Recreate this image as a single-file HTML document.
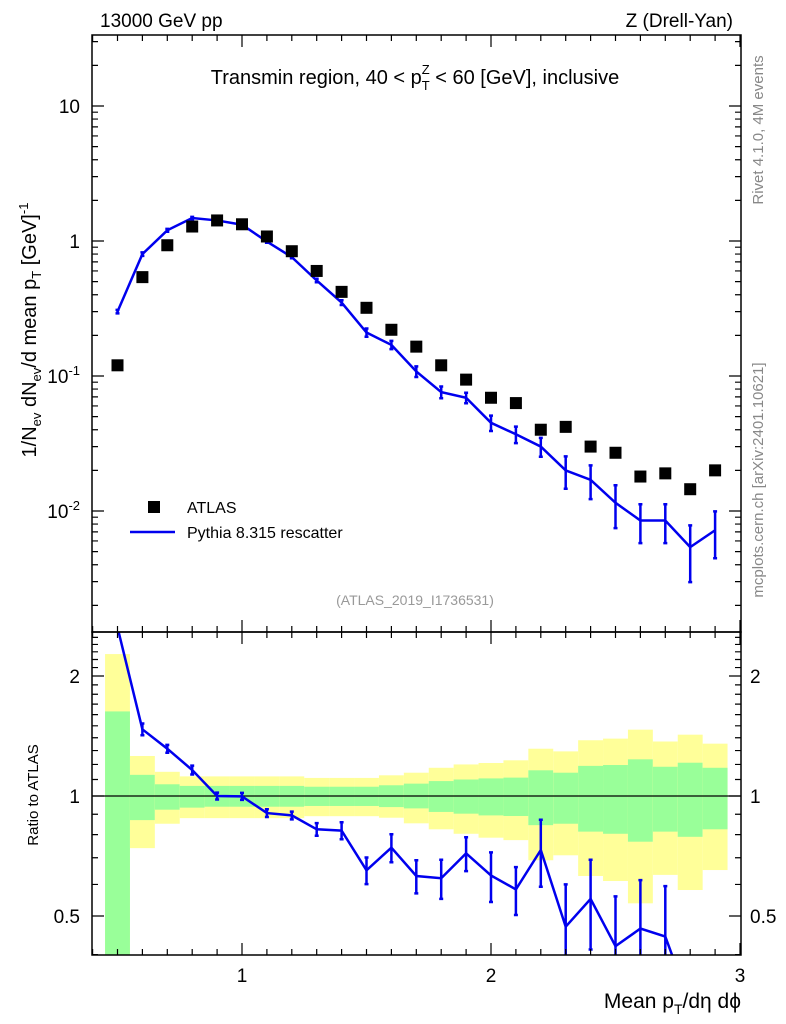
<!DOCTYPE html>
<html><head><meta charset="utf-8"><style>
html,body{margin:0;background:#fff;overflow:hidden;width:786px;height:1024px;}
svg{display:block;}
svg text{font-family:"Liberation Sans",sans-serif;}
</style></head><body>
<svg id="chart" width="786" height="1024" xmlns="http://www.w3.org/2000/svg">
<g id="bands"></g>
<g id="marks"></g>
<g id="axes"></g>
<text x="100" y="27" font-size="19">13000 GeV pp</text>
<text x="733" y="27" font-size="19" text-anchor="end">Z (Drell-Yan)</text>
<text x="415" y="84" font-size="20" text-anchor="middle">Transmin region, 40 &lt; p<tspan dy="6" font-size="13">T</tspan><tspan dx="-8" dy="-16" font-size="13">Z</tspan><tspan dy="10"> &lt; 60 [GeV], inclusive</tspan></text>
<text x="415" y="605" font-size="14" fill="#999" text-anchor="middle">(ATLAS_2019_I1736531)</text>
<text transform="translate(763,130) rotate(-90)" font-size="15" fill="#888" text-anchor="middle">Rivet 4.1.0,  4M events</text>
<text transform="translate(763,480) rotate(-90)" font-size="15" fill="#888" text-anchor="middle">mcplots.cern.ch [arXiv:2401.10621]</text>
<text transform="translate(36,330) rotate(-90)" font-size="20" text-anchor="middle">1/N<tspan dy="5" font-size="13">ev</tspan><tspan dy="-5"> dN</tspan><tspan dy="5" font-size="13">ev</tspan><tspan dy="-5">/d mean p</tspan><tspan dy="5" font-size="13">T</tspan><tspan dy="-5"> [GeV]</tspan><tspan dy="-8" font-size="13">-1</tspan></text>
<text transform="translate(38,795) rotate(-90)" font-size="15" text-anchor="middle">Ratio to ATLAS</text>
<text x="741" y="1008" font-size="21" text-anchor="end">Mean p<tspan dy="6" font-size="14">T</tspan><tspan dy="-6">/dη dϕ</tspan></text>
<g>
<rect x="148" y="501" width="12" height="12" fill="#000"/>
<text x="187" y="513" font-size="16">ATLAS</text>
<line x1="130" y1="532" x2="175" y2="532" stroke="#0000ee" stroke-width="2.5"/>
<text x="187" y="538" font-size="16">Pythia 8.315 rescatter</text>
</g>
</svg>
<script>
const xs=[0.5,0.6,0.7,0.8,0.9,1.0,1.1,1.2,1.3,1.4,1.5,1.6,1.7,1.8,1.9,2.0,2.1,2.2,2.3,2.4,2.5,2.6,2.7,2.8,2.9];
const atlas=[0.12,0.54,0.93,1.28,1.42,1.33,1.08,0.84,0.60,0.42,0.32,0.22,0.165,0.12,0.094,0.069,0.063,0.040,0.042,0.030,0.027,0.018,0.019,0.0145,0.020];
const pythia=[0.30,0.80,1.2,1.48,1.42,1.32,0.99,0.76,0.51,0.35,0.21,0.17,0.108,0.076,0.069,0.045,0.037,0.030,0.020,0.017,0.0115,0.0085,0.0085,0.0054,0.0072];
const pythiaRelErr=[0.03,0.03,0.025,0.02,0.015,0.015,0.02,0.02,0.03,0.04,0.07,0.07,0.09,0.10,0.09,0.13,0.14,0.16,0.27,0.28,0.35,0.32,0.32,0.45,0.38];
const ratio=[2.65,1.47,1.314,1.162,1.0,0.998,0.906,0.894,0.825,0.819,0.651,0.742,0.63,0.622,0.718,0.632,0.583,0.732,0.47,0.552,0.42,0.465,0.444,0.30,0.25];
const ratioErr=[0.05,0.05,0.03,0.03,0.02,0.02,0.02,0.02,0.03,0.04,0.05,0.06,0.06,0.07,0.07,0.09,0.08,0.14,0.13,0.14,0.14,0.15,0.15,0.05,0.05];
const yelHi=[2.27,1.26,1.15,1.12,1.12,1.12,1.12,1.12,1.11,1.11,1.11,1.127,1.144,1.177,1.20,1.21,1.229,1.314,1.294,1.38,1.393,1.467,1.37,1.425,1.353];
const yelLo=[0.3,0.74,0.852,0.88,0.88,0.88,0.88,0.88,0.89,0.89,0.89,0.882,0.854,0.825,0.804,0.786,0.775,0.69,0.71,0.63,0.612,0.538,0.634,0.581,0.652];
const grnHi=[1.63,1.13,1.07,1.06,1.06,1.06,1.06,1.06,1.055,1.055,1.055,1.064,1.074,1.09,1.10,1.107,1.112,1.16,1.144,1.19,1.196,1.236,1.184,1.212,1.177];
const grnLo=[0.3,0.87,0.924,0.935,0.94,0.94,0.94,0.94,0.944,0.944,0.944,0.938,0.931,0.912,0.903,0.894,0.891,0.845,0.852,0.814,0.804,0.768,0.814,0.79,0.825];
const yTickMain=["10","1","10^-1","10^-2"];
const NS="http://www.w3.org/2000/svg";
const L=92,R=741,T1=35,B1=632,T2=632,B2=955;
const X=v=>242+(v-1)*249;
const Y1=v=>106-(Math.log10(v)-1)*135;
const Y2=v=>796-Math.log2(v)*120;
const C2=v=>Math.max(T2,Math.min(B2,Y2(v)));
function el(tag,attrs,parent){const e=document.createElementNS(NS,tag);for(const k in attrs)e.setAttribute(k,attrs[k]);parent.appendChild(e);return e;}
const bands=document.getElementById('bands'),marks=document.getElementById('marks'),axes=document.getElementById('axes');
xs.forEach((x,i)=>{
  const a=X(x-0.05),w=X(x+0.05)-a;
  let r=el('rect',{x:a,y:C2(yelHi[i]),width:w,height:C2(yelLo[i])-C2(yelHi[i]),fill:'#ffff99'},bands);
  
  
  r=el('rect',{x:a,y:C2(grnHi[i]),width:w,height:C2(grnLo[i])-C2(grnHi[i]),fill:'#99ff99'},bands);
  
  
});
let ln=el('line',{x1:L,x2:R,y1:Y2(1),y2:Y2(1),stroke:'#000','stroke-width':1.2},bands);


const cp1=el('clipPath',{id:'c1'},marks);el('rect',{x:L,y:T1,width:R-L,height:B1-T1},cp1);
const cp2=el('clipPath',{id:'c2'},marks);el('rect',{x:L,y:T2,width:R-L,height:B2-T2},cp2);
const g1=el('g',{'clip-path':'url(#c1)'},marks),g2=el('g',{'clip-path':'url(#c2)'},marks);
let p=el('polyline',{points:xs.map((x,i)=>X(x)+','+Y1(pythia[i])).join(' '),fill:'none',stroke:'#0000ee','stroke-width':2.5},g1);


xs.forEach((x,i)=>{
  const hi=Y1(pythia[i]*(1+pythiaRelErr[i])),lo=Y1(pythia[i]*(1-pythiaRelErr[i]));
  const e=el('path',{d:`M${X(x)},${hi}V${lo}M${X(x)-2},${hi}h4M${X(x)-2},${lo}h4`,stroke:'#0000ee','stroke-width':2.5,fill:'none'},g1);
  
  
  const s=el('rect',{x:X(x)-6,y:Y1(atlas[i])-6,width:12,height:12,fill:'#000'},g1);
  
  
});
p=el('polyline',{points:xs.map((x,i)=>X(x)+','+Y2(ratio[i])).join(' '),fill:'none',stroke:'#0000ee','stroke-width':2.5},g2);


xs.forEach((x,i)=>{
  if(i==0)return;
  const hi=Y2(ratio[i]+ratioErr[i]),lo=Y2(Math.max(0.05,ratio[i]-ratioErr[i]));
  const e=el('path',{d:`M${X(x)},${hi}V${lo}M${X(x)-2},${hi}h4M${X(x)-2},${lo}h4`,stroke:'#0000ee','stroke-width':2.5,fill:'none'},g2);
  
  
});
let f=el('rect',{x:L,y:T1,width:R-L,height:B1-T1,fill:'none',stroke:'#000','stroke-width':1.5},axes);


f=el('rect',{x:L,y:T2,width:R-L,height:B2-T2,fill:'none',stroke:'#000','stroke-width':1.5},axes);


let d='';
for(let k=4;k<=30;k++){const v=k/10,x=X(v);if(x<L||x>R)continue;const len=(k%10==0)?12:6;
  d+=`M${x},${B1}v${-len}M${x},${T1}v${len}M${x},${B2}v${-len}M${x},${T2}v${len}`;}
for(let e=-3;e<=1;e++)for(let m=1;m<=9;m++){const v=m*Math.pow(10,e),y=Y1(v);if(y<T1||y>B1)continue;const len=m==1?12:6;
  d+=`M${L},${y}h${len}M${R},${y}h${-len}`;}
for(let k=4;k<=25;k++){const v=k/10,y=Y2(v);if(y<T2||y>B2)continue;const len=(k==5||k==10||k==20)?12:6;
  d+=`M${L},${y}h${len}M${R},${y}h${-len}`;}
el('path',{d:d,stroke:'#000','stroke-width':1.2,fill:'none'},axes);
function txt(s,x,y,anchor,size,name){const t=el('text',{x:x,y:y,'text-anchor':anchor,'font-size':size},axes);t.textContent=s;
  
  return t;}
[1,2,3].forEach(v=>txt(String(v),X(v),982,'middle',19,'x-tick-'+v));
const mainVals=[10,1,0.1,0.01];
yTickMain.forEach((s,i)=>{const y=Y1(mainVals[i])+7;
  if(s.includes('^')){const t=txt('10',80,y,'end',19,'y-tick-'+s);const sp=el('tspan',{dy:-8,'font-size':13},t);sp.textContent=s.split('^')[1];}
  else txt(s,80,y,'end',19,'y-tick-'+s);});
[[2,'2'],[1,'1'],[0.5,'0.5']].forEach(([v,s])=>{txt(s,80,Y2(v)+7,'end',19,'ratio-tick-left-'+s);txt(s,750,Y2(v)+7,'start',19,'ratio-tick-right-'+s);});
</script>
</body></html>
